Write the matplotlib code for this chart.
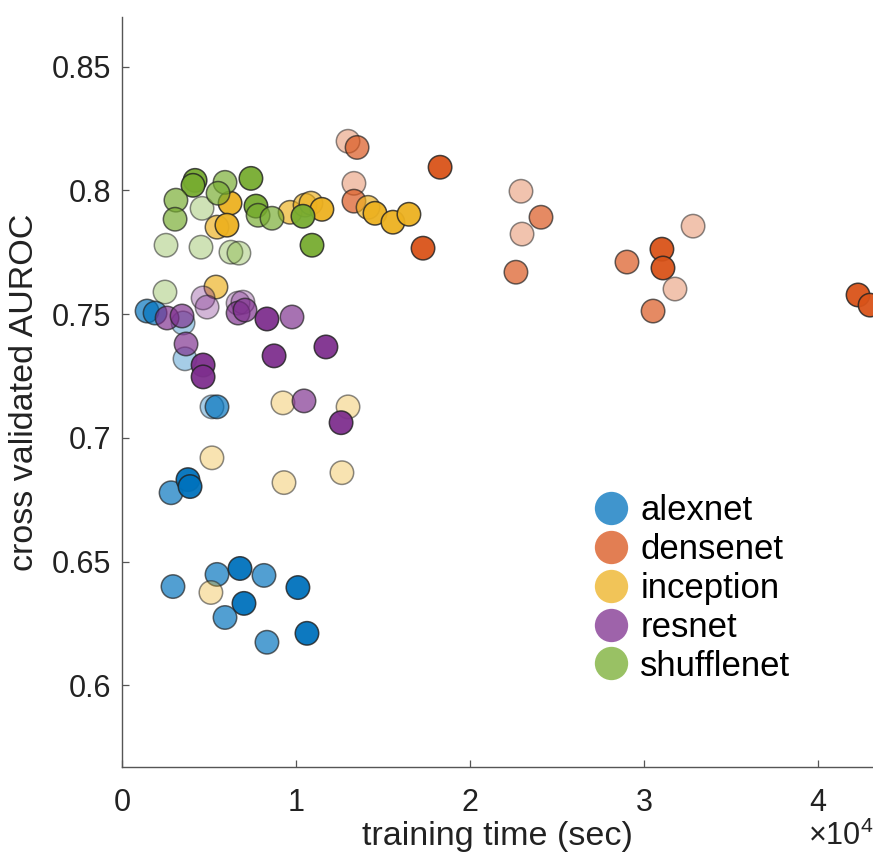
import numpy as np
import matplotlib
matplotlib.use('Agg')
import matplotlib.pyplot as plt
from matplotlib.colors import to_rgba
from matplotlib.lines import Line2D

plt.rcParams['font.family'] = ['Liberation Sans', 'DejaVu Sans']
plt.rcParams['mathtext.fontset'] = 'custom'
plt.rcParams['mathtext.rm'] = 'Liberation Sans'

# training time (x1e4 sec), AUROC, shade level (1 light, 2 mid, 3 dark)
alexnet_x = [0.144, 0.190, 0.351, 0.362, 0.517, 0.546, 0.282, 0.379, 0.391,
             0.293, 0.546, 0.678, 0.816, 1.011, 0.701, 0.592, 0.833, 1.063]
alexnet_y = [0.7512, 0.7504, 0.7464, 0.7319, 0.7125, 0.7125, 0.6778, 0.6831, 0.6803,
             0.6399, 0.6448, 0.6472, 0.6444, 0.6395, 0.6331, 0.6274, 0.6174, 0.6210]
alexnet_s = [2, 2, 1, 1, 1, 2, 2, 3, 3, 2, 2, 3, 2, 3, 3, 2, 2, 3]

densenet_x = [1.299, 1.351, 1.333, 1.333, 1.828, 1.730, 2.293, 2.408, 2.299,
              2.264, 3.282, 3.103, 3.109, 2.902, 3.178, 3.052, 4.230, 4.299]
densenet_y = [0.8198, 0.8173, 0.8028, 0.7956, 0.8093, 0.7766, 0.7996, 0.7891, 0.7823,
              0.7669, 0.7855, 0.7762, 0.7686, 0.7710, 0.7601, 0.7512, 0.7577, 0.7536]
densenet_s = [1, 2, 1, 2, 3, 3, 1, 2, 1, 2, 1, 3, 3, 2, 1, 2, 3, 3]

inception_x = [0.621, 0.546, 0.603, 0.966, 1.052, 1.086, 1.149, 1.414, 1.454,
               1.557, 1.649, 0.540, 0.925, 1.299, 0.517, 0.931, 1.264, 0.511]
inception_y = [0.7948, 0.7851, 0.7859, 0.7911, 0.7940, 0.7948, 0.7923, 0.7931, 0.7907,
               0.7871, 0.7903, 0.7609, 0.7141, 0.7125, 0.6919, 0.6819, 0.6859, 0.6375]
inception_s = [3, 2, 3, 2, 2, 2, 3, 2, 3, 3, 3, 2, 1, 1, 1, 1, 1, 1]

resnet_x = [0.259, 0.345, 0.466, 0.489, 0.667, 0.695, 0.667, 0.707, 0.833,
            0.977, 0.368, 0.466, 0.466, 0.874, 1.172, 1.046, 1.259]
resnet_y = [0.7484, 0.7492, 0.7565, 0.7528, 0.7544, 0.7548, 0.7504, 0.7516, 0.7480,
            0.7488, 0.7379, 0.7294, 0.7246, 0.7331, 0.7367, 0.7149, 0.7061]
resnet_s = [2, 2, 1, 1, 1, 1, 2, 2, 3, 2, 2, 3, 3, 3, 3, 2, 3]

shufflenet_x = [0.420, 0.408, 0.592, 0.741, 0.310, 0.460, 0.552, 0.305, 0.770,
                0.782, 0.862, 1.040, 1.092, 0.253, 0.454, 0.626, 0.672, 0.247]
shufflenet_y = [0.8040, 0.8020, 0.8032, 0.8048, 0.7960, 0.7927, 0.7988, 0.7883, 0.7936,
                0.7899, 0.7887, 0.7895, 0.7778, 0.7778, 0.7770, 0.7750, 0.7746, 0.7589]
shufflenet_s = [3, 3, 2, 3, 2, 1, 2, 2, 3, 2, 2, 3, 3, 1, 1, 1, 1, 1]

models = ['alexnet', 'densenet', 'inception', 'resnet', 'shufflenet']
colors = ['#0072BD', '#D95319', '#EDB120', '#7E2F8E', '#77AC30']
xs = [alexnet_x, densenet_x, inception_x, resnet_x, shufflenet_x]
ys = [alexnet_y, densenet_y, inception_y, resnet_y, shufflenet_y]
shades = [alexnet_s, densenet_s, inception_s, resnet_s, shufflenet_s]

alpha_of = {1: 0.35, 2: 0.68, 3: 0.95}

fig = plt.figure(figsize=(8.73, 8.52), dpi=100)
ax = fig.add_axes([122 / 873, 85 / 852, 1 - 122 / 873, 750 / 852])

for name, c, x, y, s in zip(models, colors, xs, ys, shades):
    fc = [to_rgba(c, alpha_of[k]) for k in s]
    ec = [to_rgba('#222222', 0.35 + 0.5 * alpha_of[k]) for k in s]
    ax.scatter(np.array(x) * 1e4, y, s=285, facecolors=fc, edgecolors=ec, linewidths=1.1, zorder=3)

ax.set_xlim(0, 43160)
ax.set_ylim(0.567, 0.87)
ax.set_xticks([0, 1e4, 2e4, 3e4, 4e4])
ax.set_xticklabels(['0', '1', '2', '3', '4'])
ax.set_yticks([0.6, 0.65, 0.7, 0.75, 0.8, 0.85])
ax.set_yticklabels(['0.6', '0.65', '0.7', '0.75', '0.8', '0.85'])
ax.tick_params(direction='in', length=5, width=0.9, color='#555555', labelsize=22,
               labelcolor='#222222')
ax.tick_params(axis='y', pad=8)
ax.tick_params(axis='x', pad=15)
for side in ['top', 'right']:
    ax.spines[side].set_visible(False)
for side in ['left', 'bottom']:
    ax.spines[side].set_color('#555555')
    ax.spines[side].set_linewidth(1.0)

ax.set_xlabel('training time (sec)', fontsize=24.5, color='#222222', labelpad=2)
ax.set_ylabel('cross validated AUROC', fontsize=24.5, color='#222222', labelpad=8)
ax.text(1.0, -0.093, r'$\times\mathregular{10^4}$', transform=ax.transAxes,
        ha='right', va='center', fontsize=22, color='#222222')

handles = [Line2D([], [], ls='none', marker='o', markersize=24, markerfacecolor=to_rgba(c, 0.75),
                  markeredgecolor='none') for c in colors]
ax.legend(handles, models, loc='upper left', bbox_to_anchor=(0.6285, 0.364), frameon=False,
          fontsize=25, handlelength=1.0, handletextpad=0.33, labelspacing=0.17, borderaxespad=0,
          borderpad=0)

fig.savefig('out.png', dpi=100)
